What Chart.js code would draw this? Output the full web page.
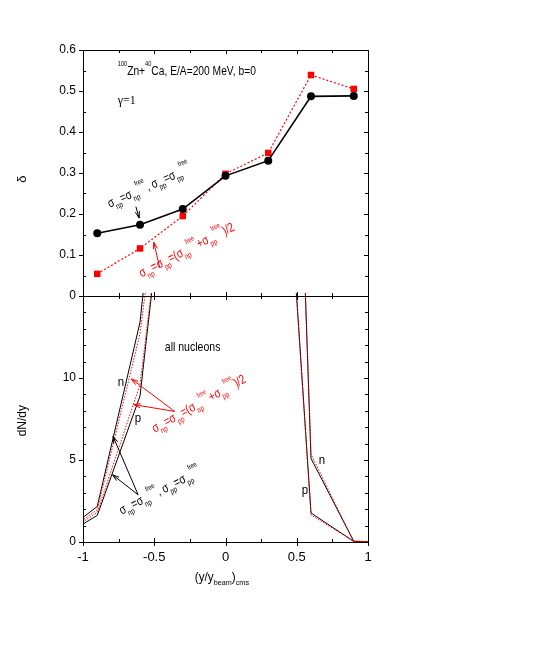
<!DOCTYPE html>
<html>
<head>
<meta charset="utf-8">
<script src="https://cdn.jsdelivr.net/npm/chart.js@4/dist/chart.umd.min.js"></script>
<style>
  body { margin: 0; background: #fff; }
  canvas { position: absolute; left: 0; top: 0; }
</style>
</head>
<body>
<canvas id="topChart" width="545" height="654"></canvas>
<canvas id="bottomChart" width="545" height="654"></canvas>
<script>
// top panel: delta vs rapidity
const xs = [-0.9, -0.6, -0.3, 0, 0.3, 0.6, 0.9];
const deltaFree = [0.153, 0.174, 0.212, 0.293, 0.330, 0.487, 0.488];
const deltaAvg = [0.054, 0.116, 0.195, 0.298, 0.349, 0.539, 0.505];

// bottom panel: dN/dy (curves run off the top of the frame)
const ys = [-1.2, -0.9, -0.6, -0.3, 0, 0.3, 0.6, 0.9, 1.2];
const nFree = [0.15, 2.17, 13.4, 38, 70, 81, 5.1, 0.04, 0];
const pFree = [0.05, 1.62, 8.9, 32, 70, 41, 1.77, 0.04, 0];
const nAvg = [0.1, 1.97, 12.7, 33, 70, 80, 5.35, 0.04, 0];
const pAvg = [0.1, 1.8, 9.6, 31, 70, 41, 1.65, 0.04, 0];

const xTicks = [-1, -0.5, 0, 0.5, 1];
const deltaTicks = [0, 0.1, 0.2, 0.3, 0.4, 0.5, 0.6];
const dndyTicks = [0, 5, 10];

const FONT = "'Liberation Sans', Arial, sans-serif";
const RED = '#ff0000';

const pts = (x, y) => x.map((v, i) => ({ x: v, y: y[i] }));

// text with sub (1) / superscripts (2), squeezed horizontally by sx
function rich(ctx, parts, x, y, ang, color, size, sx) {
    ctx.save();
    ctx.translate(x, y);
    ctx.rotate(ang * Math.PI / 180);
    ctx.scale(sx || 1, 1);
    ctx.fillStyle = color;
    ctx.textBaseline = 'alphabetic';
    let cx = 0;
    for (const [t, k] of parts) {
        const s = k === 1 ? size * 0.62 : k === 2 ? size * 0.55 : size;
        ctx.font = s + 'px ' + FONT;
        const dy = k === 1 ? size * 0.33 : k === 2 ? -size * 0.72 : 0;
        ctx.fillText(t, cx, dy);
        cx += ctx.measureText(t).width;
    }
    ctx.restore();
}

function arrow(ctx, x1, y1, x2, y2, color) {
    const a = Math.atan2(y2 - y1, x2 - x1), L = 7, w = 0.3;
    ctx.save();
    ctx.strokeStyle = color;
    ctx.lineWidth = 1;
    ctx.beginPath();
    ctx.moveTo(x1, y1); ctx.lineTo(x2, y2);
    ctx.moveTo(x2 - L * Math.cos(a - w), y2 - L * Math.sin(a - w));
    ctx.lineTo(x2, y2);
    ctx.lineTo(x2 - L * Math.cos(a + w), y2 - L * Math.sin(a + w));
    ctx.stroke();
    ctx.restore();
}

// box with gnuplot-like tick marks
function drawFrame(chart, yMax, yMajor, yMinor) {
    const { ctx, chartArea: a, scales } = chart;
    ctx.save();
    ctx.strokeStyle = '#000';
    ctx.lineWidth = 1;
    ctx.strokeRect(Math.round(a.left) + 0.5, Math.round(a.top) + 0.5, Math.round(a.width), Math.round(a.height));
    ctx.beginPath();
    for (let v = 0; v <= yMax + 1e-9; v += yMinor) {
        const major = Math.abs(v / yMajor - Math.round(v / yMajor)) < 1e-6;
        const py = Math.round(scales.y.getPixelForValue(v)) + 0.5;
        if (major) { ctx.moveTo(a.left - 4, py); ctx.lineTo(a.left, py); }
        else { ctx.moveTo(a.left, py); ctx.lineTo(a.left + 3, py); }
        ctx.moveTo(a.right - (major ? 4 : 3), py); ctx.lineTo(a.right, py);
    }
    for (let v = -1; v <= 1 + 1e-9; v += 0.25) {
        const major = Math.abs(v * 2 - Math.round(v * 2)) < 1e-6;
        const px = Math.round(scales.x.getPixelForValue(v)) + 0.5;
        if (major) { ctx.moveTo(px, a.bottom); ctx.lineTo(px, a.bottom + 4); ctx.moveTo(px, a.bottom); ctx.lineTo(px, a.bottom - 4); }
        else { ctx.moveTo(px, a.bottom); ctx.lineTo(px, a.bottom - 3); }
        ctx.moveTo(px, a.top); ctx.lineTo(px, a.top + (major ? 4 : 3));
    }
    ctx.stroke();
    ctx.restore();
}

const SIG_FREE = [['σ', 0], ['np', 1], ['=σ', 0], ['np', 1], ['free', 2], [', σ', 0], ['pp', 1], ['=σ', 0], ['pp', 1], ['free', 2]];
const SIG_AVG = [['σ', 0], ['np', 1], ['=σ', 0], ['pp', 1], ['=(σ', 0], ['np', 1], ['free', 2], ['+σ', 0], ['pp', 1], ['free', 2], [')/2', 0]];
const SQ = 0.78;

const topLabels = {
    id: 'topLabels',
    afterDraw(chart) {
        const { ctx, scales: { x, y } } = chart;
        const X = v => x.getPixelForValue(v), Y = v => y.getPixelForValue(v);
        drawFrame(chart, 0.6, 0.1, 0.05);
        rich(ctx, [['100', 2], ['Zn+', 0], ['40', 2], ['Ca, E/A=200 MeV, b=0', 0]], X(-0.756), Y(0.539), 0, '#000', 12.5, 0.82);
        ctx.save();
        ctx.font = "12px 'Liberation Serif', serif";
        ctx.fillStyle = '#000';
        ctx.fillText('γ=1', X(-0.756), Y(0.468));
        ctx.restore();
        rich(ctx, SIG_FREE, X(-0.812), Y(0.215), -24, '#000', 13, SQ);
        arrow(ctx, X(-0.629), Y(0.218), X(-0.606), Y(0.19), '#000');
        rich(ctx, SIG_AVG, X(-0.589), Y(0.045), -27, RED, 13, SQ);
        arrow(ctx, X(-0.461), Y(0.068), X(-0.503), Y(0.131), RED);
        ctx.save();
        ctx.translate(26, Y(0.285));
        ctx.rotate(-Math.PI / 2);
        ctx.font = '13px ' + FONT;
        ctx.fillStyle = '#000';
        ctx.textAlign = 'center';
        ctx.fillText('δ', 0, 0);
        ctx.restore();
    }
};

const bottomLabels = {
    id: 'bottomLabels',
    afterDraw(chart) {
        const { ctx, scales: { x, y } } = chart;
        const X = v => x.getPixelForValue(v), Y = v => y.getPixelForValue(v);
        drawFrame(chart, 15, 5, 1);
        rich(ctx, [['all nucleons', 0]], X(-0.426), Y(11.66), 0, '#000', 13.5, SQ);
        rich(ctx, [['n', 0]], X(-0.756), Y(9.53), 0, '#000', 13.5, 0.85);
        rich(ctx, [['p', 0]], X(-0.636), Y(7.34), 0, '#000', 13.5, 0.85);
        rich(ctx, [['n', 0]], X(0.655), Y(4.77), 0, '#000', 13.5, 0.85);
        rich(ctx, [['p', 0]], X(0.535), Y(2.94), 0, '#000', 13.5, 0.85);
        rich(ctx, SIG_AVG, X(-0.496), Y(6.66), -29, RED, 13, SQ);
        arrow(ctx, X(-0.356), Y(7.96), X(-0.66), Y(9.94), RED);
        arrow(ctx, X(-0.356), Y(7.96), X(-0.644), Y(8.38), RED);
        rich(ctx, SIG_FREE, X(-0.728), Y(1.66), -27, '#000', 13, SQ);
        arrow(ctx, X(-0.613), Y(2.88), X(-0.789), Y(6.44), '#000');
        arrow(ctx, X(-0.613), Y(2.88), X(-0.793), Y(4.1), '#000');
        // axis titles
        ctx.save();
        ctx.translate(26, Y(7.4));
        ctx.rotate(-Math.PI / 2);
        ctx.font = '12px ' + FONT;
        ctx.fillStyle = '#000';
        ctx.textAlign = 'center';
        ctx.fillText('dN/dy', 0, 0);
        ctx.restore();
        rich(ctx, [['(y/y', 0], ['beam', 1], [')', 0], ['cms', 1]], X(-0.215), 581, 0, '#000', 13, 0.9);
    }
};

const tickFont = { family: FONT, size: 12 };

new Chart(document.getElementById('topChart'), {
    type: 'line',
    data: {
        datasets: [{
            data: pts(xs, deltaFree),
            borderColor: '#000',
            backgroundColor: '#000',
            borderWidth: 1.6,
            pointStyle: 'circle',
            pointRadius: 4,
            pointBorderWidth: 0,
            order: 0
        }, {
            data: pts(xs, deltaAvg),
            borderColor: RED,
            backgroundColor: RED,
            borderWidth: 1.2,
            borderDash: [2, 2],
            pointStyle: 'rect',
            pointRadius: 4.6,
            pointBorderWidth: 0,
            order: 1
        }]
    },
    options: {
        responsive: false,
        animation: false,
        layout: { padding: { left: 0, right: 177, top: 50, bottom: 358 } },
        plugins: { legend: { display: false }, tooltip: { enabled: false } },
        scales: {
            x: {
                type: 'linear', min: -1, max: 1,
                grid: { display: false, drawTicks: false },
                border: { display: false },
                ticks: { display: false },
                afterFit: s => { s.height = 0; }
            },
            y: {
                min: 0, max: 0.6,
                grid: { display: false, drawTicks: false },
                border: { display: false },
                afterBuildTicks: s => { s.ticks = deltaTicks.map(v => ({ value: v })); },
                ticks: { font: tickFont, color: '#000', padding: 7, callback: v => String(+v.toFixed(1)) },
                afterFit: s => { s.width = 83; }
            }
        }
    },
    plugins: [topLabels]
});

const thin = (d, color, dash) => ({
    data: pts(ys, d),
    borderColor: color,
    borderWidth: 1,
    borderDash: dash,
    pointRadius: 0,
    clip: { left: 0, top: 3, right: 0, bottom: 2 }
});

new Chart(document.getElementById('bottomChart'), {
    type: 'line',
    data: {
        datasets: [
            thin(nAvg, RED, [1.5, 1.5]),
            thin(pAvg, RED, [1.5, 1.5]),
            thin(nFree, '#000', []),
            thin(pFree, '#000', [])
        ]
    },
    options: {
        responsive: false,
        animation: false,
        layout: { padding: { left: 0, right: 177, top: 296, bottom: 72 } },
        plugins: { legend: { display: false }, tooltip: { enabled: false } },
        scales: {
            x: {
                type: 'linear', min: -1, max: 1,
                grid: { display: false, drawTicks: false },
                border: { display: false },
                afterBuildTicks: s => { s.ticks = xTicks.map(v => ({ value: v })); },
                ticks: { font: { family: FONT, size: 13 }, color: '#000', padding: 8, maxRotation: 0, callback: v => String(v) },
                afterFit: s => { s.height = 40; }
            },
            y: {
                min: 0, max: 15,
                grid: { display: false, drawTicks: false },
                border: { display: false },
                afterBuildTicks: s => { s.ticks = dndyTicks.map(v => ({ value: v })); },
                ticks: { font: tickFont, color: '#000', padding: 7 },
                afterFit: s => { s.width = 83; }
            }
        }
    },
    plugins: [bottomLabels]
});
</script>
</body>
</html>
